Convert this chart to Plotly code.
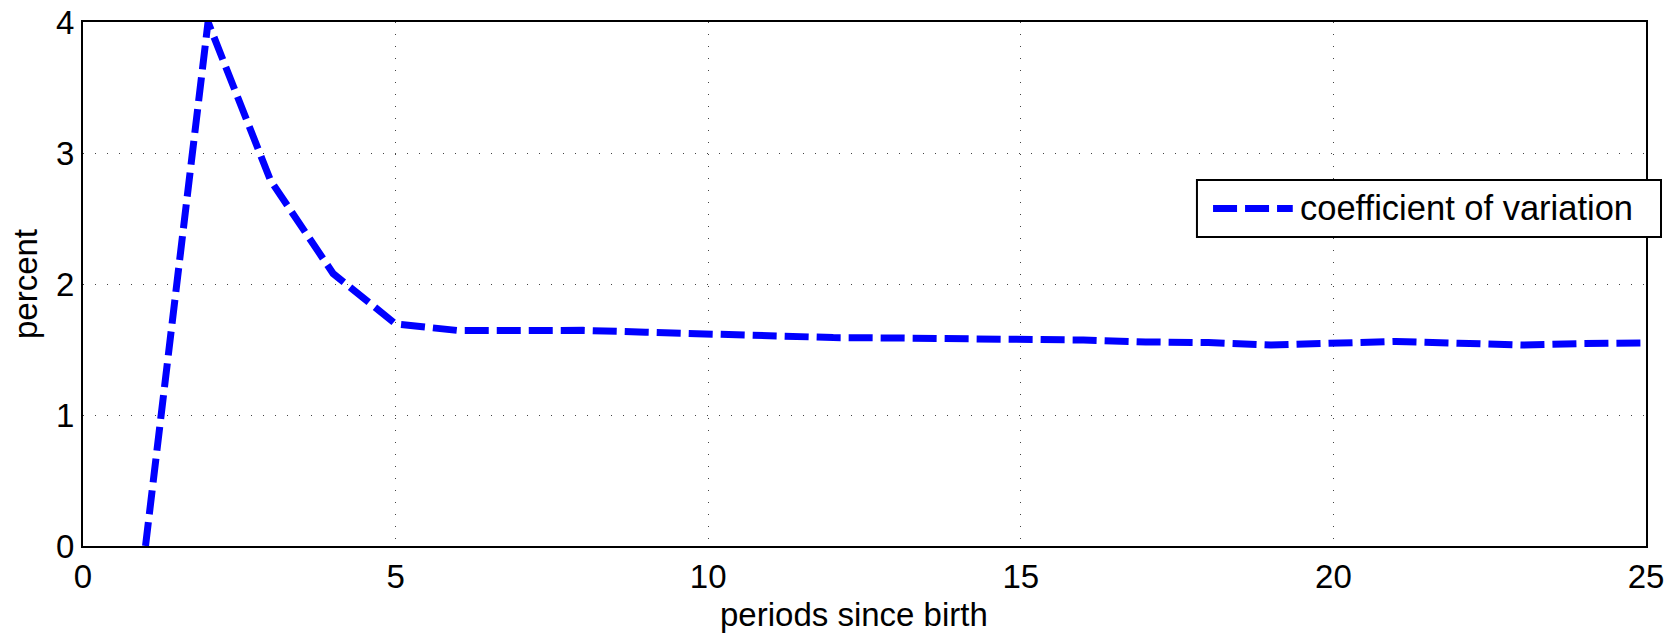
import plotly.graph_objects as go

periods = list(range(1, 26))
cv = [0.0, 4.0, 2.79, 2.08, 1.695, 1.645, 1.645, 1.646, 1.632, 1.617,
      1.602, 1.591, 1.588, 1.584, 1.580, 1.572, 1.558, 1.553, 1.534, 1.545,
      1.562, 1.548, 1.534, 1.545, 1.550]
series_name = "coefficient of variation"
x_title = "periods since birth"
y_title = "percent"
x_ticks = [0, 5, 10, 15, 20, 25]
y_ticks = [0, 1, 2, 3, 4]

FONT = "Liberation Sans, Arial, Helvetica, sans-serif"
BLUE = "#0000FF"

fig = go.Figure()
fig.add_trace(go.Scatter(
    x=periods, y=cv, mode="lines", name=series_name, showlegend=False,
    line=dict(color=BLUE, width=7, dash="24px,8px"),
))

axis_common = dict(
    showline=True, mirror=True, linecolor="black", linewidth=2,
    showgrid=True, gridcolor="#444444", gridwidth=1, griddash="1px,11px",
    zeroline=False, ticks="", automargin=False,
    tickfont=dict(family=FONT, size=33, color="black"),
)
fig.update_xaxes(range=[0, 25], tickvals=x_ticks, ticklabelstandoff=0, **axis_common)
fig.update_yaxes(range=[0, 4], tickvals=y_ticks, ticklabelstandoff=0,
                 title=dict(text=y_title, font=dict(family=FONT, size=33, color="black"), standoff=8),
                 **axis_common)

# x-axis title (placed slightly left of centre, as in the original)
fig.add_annotation(xref="paper", yref="paper", x=0.493, y=-0.131, xanchor="center", yanchor="middle",
                   text=x_title, showarrow=False,
                   font=dict(family=FONT, size=33, color="black"))

# legend drawn as a boxed sample line and label
lx0, lx1, ly0, ly1 = 0.7127, 1.0096, 0.5897, 0.6985
fig.add_shape(type="rect", xref="paper", yref="paper", x0=lx0, x1=lx1, y0=ly0, y1=ly1,
              line=dict(color="black", width=2), fillcolor="white", layer="above")
ymid = (ly0 + ly1) / 2
fig.add_shape(type="line", xref="paper", yref="paper", x0=0.723, x1=0.774, y0=ymid, y1=ymid,
              line=dict(color=BLUE, width=7, dash="24px,8px"), layer="above")
fig.add_annotation(xref="paper", yref="paper", x=0.7775, y=ymid, xanchor="left", yanchor="middle",
                   text=series_name, showarrow=False,
                   font=dict(family=FONT, size=34.5, color="black"))

fig.update_layout(
    width=1669, height=633,
    margin=dict(l=83, r=23, t=22, b=87, autoexpand=False),
    paper_bgcolor="white", plot_bgcolor="white",
    font=dict(family=FONT, color="black"),
)
fig.write_html("out.html", config={"displayModeBar": False},
               post_script="document.body.style.margin='0';document.body.style.overflow='hidden';")
